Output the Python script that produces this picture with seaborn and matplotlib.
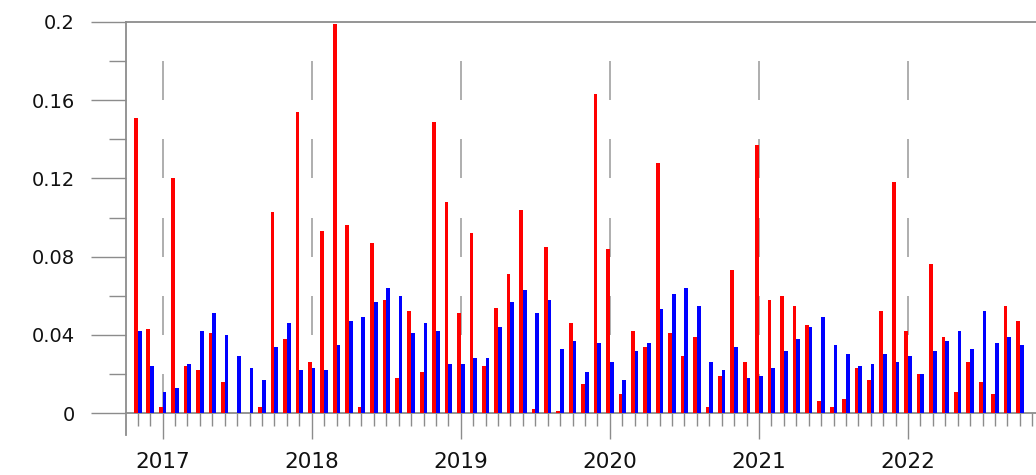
import numpy as np
import pandas as pd
import seaborn as sns
import matplotlib.pyplot as plt
from matplotlib.ticker import FixedLocator

sns.set_style("white")
plt.rcParams["font.family"] = ["DejaVu Sans"]

# monthly values, Nov 2016 .. Oct 2022
red_values = [
    0.151, 0.043,
    0.003, 0.120, 0.024, 0.022, 0.041, 0.016, 0.0, 0.0, 0.003, 0.103, 0.038, 0.154,
    0.026, 0.093, 0.199, 0.096, 0.003, 0.087, 0.058, 0.018, 0.052, 0.021, 0.149, 0.108,
    0.051, 0.092, 0.024, 0.054, 0.071, 0.104, 0.002, 0.085, 0.001, 0.046, 0.015, 0.163,
    0.084, 0.010, 0.042, 0.034, 0.128, 0.041, 0.029, 0.039, 0.003, 0.019, 0.073, 0.026,
    0.137, 0.058, 0.060, 0.055, 0.045, 0.006, 0.003, 0.007, 0.023, 0.017, 0.052, 0.118,
    0.042, 0.020, 0.076, 0.039, 0.011, 0.026, 0.016, 0.010, 0.055, 0.047,
]
blue_values = [
    0.042, 0.024,
    0.011, 0.013, 0.025, 0.042, 0.051, 0.040, 0.029, 0.023, 0.017, 0.034, 0.046, 0.022,
    0.023, 0.022, 0.035, 0.047, 0.049, 0.057, 0.064, 0.060, 0.041, 0.046, 0.042, 0.025,
    0.025, 0.028, 0.028, 0.044, 0.057, 0.063, 0.051, 0.058, 0.033, 0.037, 0.021, 0.036,
    0.026, 0.017, 0.032, 0.036, 0.053, 0.061, 0.064, 0.055, 0.026, 0.022, 0.034, 0.018,
    0.019, 0.023, 0.032, 0.038, 0.044, 0.049, 0.035, 0.030, 0.024, 0.025, 0.030, 0.026,
    0.029, 0.020, 0.032, 0.037, 0.042, 0.033, 0.052, 0.036, 0.039, 0.035,
]
months = pd.period_range("2016-11", "2022-10", freq="M").astype(str).tolist()
year_labels = ["2017", "2018", "2019", "2020", "2021", "2022"]

df = pd.DataFrame({
    "month": months * 2,
    "value": red_values + blue_values,
    "series": ["red"] * len(months) + ["blue"] * len(months),
})

fig = plt.figure(figsize=(10.36, 4.75), dpi=100)
ax = fig.add_axes([126 / 1036, 40 / 475, 910 / 1036, 413 / 475])

sns.barplot(
    data=df, x="month", y="value", hue="series", order=months,
    palette={"red": "#ff0000", "blue": "#0000ff"},
    width=0.6, saturation=1, linewidth=0, legend=False, ax=ax, zorder=3,
)

grey = "#8c8c8c"
year_pos = [i for i, m in enumerate(months) if m.endswith("-01")]

# dashed year markers
for s in np.arange(0, 0.19, 0.04):
    ax.vlines(year_pos, s, s + 0.02, color="#a8a8a8", lw=1.3, zorder=1)

ax.set_xlim(-0.95, 72.3)
ax.set_ylim(-0.0112, 0.2)

ax.spines["right"].set_visible(False)
ax.spines["bottom"].set_position(("data", 0))
for sp in ["left", "top", "bottom"]:
    ax.spines[sp].set_color(grey)
    ax.spines[sp].set_linewidth(1.3)

ax.set_xticks(year_pos)
ax.set_xticklabels(year_labels)
ax.xaxis.set_minor_locator(FixedLocator([i for i in range(len(months) + 1) if i not in year_pos]))
ax.tick_params(axis="x", which="major", direction="out", length=19, width=1, color=grey,
               labelsize=15.5, labelcolor="#111111", pad=9, bottom=True)
ax.tick_params(axis="x", which="minor", direction="out", length=9.5, width=1, color=grey, bottom=True)

ax.set_yticks([0, 0.04, 0.08, 0.12, 0.16, 0.2])
ax.set_yticklabels(["0", "0.04", "0.08", "0.12", "0.16", "0.2"])
ax.yaxis.set_minor_locator(FixedLocator([0.02, 0.06, 0.10, 0.14, 0.18]))
ax.tick_params(axis="y", which="major", direction="out", length=25, width=1, color=grey,
               labelsize=14, labelcolor="#111111", pad=12, left=True)
ax.tick_params(axis="y", which="minor", direction="out", length=12.5, width=1, color=grey, left=True)

ax.set_xlabel("")
ax.set_ylabel("")

fig.savefig("out.png", dpi=100)
